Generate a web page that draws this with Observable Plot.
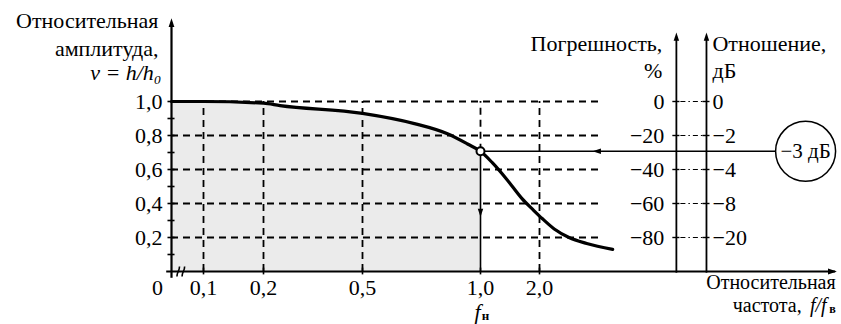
<!DOCTYPE html>
<html><head><meta charset="utf-8">
<script src="https://cdn.jsdelivr.net/npm/d3@7"></script>
<script src="https://cdn.jsdelivr.net/npm/@observablehq/plot@0.6"></script>
<style>body{margin:0;background:#fff} svg text{font-family:"Liberation Serif","Times New Roman",serif !important}</style>
</head><body><div id="chart"></div>
<script>
// ---- data ----
const freq      = [0, 0.1, 0.2, 0.25, 0.5, 0.72, 0.86, 0.945, 1.0, 1.2, 1.45, 1.7, 1.9, 2.05, 2.25, 2.5, 2.8, 3.24];
const amplitude = [1.0, 1.0, 0.99, 0.976, 0.93, 0.87, 0.81, 0.75, 0.707, 0.64, 0.54, 0.43, 0.36, 0.31, 0.25, 0.2, 0.165, 0.13];
const gridLevels   = [0.2, 0.4, 0.6, 0.8, 1.0];
const yTickLabels  = ["0,2", "0,4", "0,6", "0,8", "1,0"];
const minorYTicks  = [0.1, 0.2, 0.3, 0.4, 0.5, 0.6, 0.7, 0.8, 0.9, 1.0];
const xTicks       = [0.1, 0.2, 0.5, 1, 2];
const xTickLabels  = ["0,1", "0,2", "0,5", "1,0", "2,0"];
const errorLabels  = ["−80", "−60", "−40", "−20", "0"];
const dbLabels     = ["−20", "−8", "−4", "−2", "0"];
const cutoffF = 1.0, cutoffV = 0.707, cutoffLabel = "−3 дБ";

// ---- layout (data units of the chart's scales) ----
const errorAxisX = 4.32, dbAxisX = 4.83, axisEndX = 7.02, gridEndX = 3.03;
const circleX = 6.51, circleEdgeX = 6.0, arrowLeftX = 2.9, arrowDownY = 0.32;
const leftTopY = 1.46, secTopY = 1.376;

const curve = freq.map((f, i) => ({f, v: amplitude[i]}));
const shaded = curve.filter(d => d.f <= cutoffF);

function tri(dir) {
  return {draw(ctx, size) {
    const r = Math.sqrt(size / Math.PI), L = 2.6 * r, w = 0.85 * r;
    const pts = {up: [[0,0],[-w,L],[w,L]], down: [[0,0],[-w,-L],[w,-L]],
                 left: [[0,0],[L,-w],[L,w]], right: [[0,0],[-L,-w],[-L,w]]}[dir];
    ctx.moveTo(...pts[0]); ctx.lineTo(...pts[1]); ctx.lineTo(...pts[2]); ctx.closePath();
  }};
}

const FF = "Liberation Serif";
const FS = 22;
const dash = "7,5";
const T = (o) => Object.assign({fontSize: FS, fill: "black", fontFamily: FF}, o);
const chart = Plot.plot({
  width: 841, height: 324, margin: 0,
  style: {fontFamily: FF, background: "white", color: "black"},
  x: {type: "linear", domain: [0, 0.1, 0.2, 0.5, 1, 2, 3], range: [171, 203, 263, 362, 480, 539, 598], axis: null},
  y: {domain: [0, 1], range: [271, 101], axis: null},
  marks: [
    Plot.areaY(shaded, {x: "f", y: "v", fill: "#ebebeb", curve: "monotone-x"}),
    // dashed grid
    Plot.ruleY(gridLevels, {y: d => d, x1: 0, x2: gridEndX, stroke: "black", strokeWidth: 1.8, strokeDasharray: dash}),
    Plot.ruleX(xTicks.filter(d => d !== cutoffF), {x: d => d, y1: 0, y2: 1, stroke: "black", strokeWidth: 1.8, strokeDasharray: dash}),
    Plot.ruleX([cutoffF], {x: d => d, y1: cutoffV, y2: 1, stroke: "black", strokeWidth: 1.8, strokeDasharray: dash}),
    Plot.ruleX([cutoffF], {x: d => d, y1: 0, y2: cutoffV, stroke: "black", strokeWidth: 1.6}),
    // dash-dot connections between the two right axes
    Plot.ruleY(gridLevels, {y: d => d, x1: errorAxisX, x2: dbAxisX, stroke: "black", strokeWidth: 1.2, strokeDasharray: "1.5,3,5,3"}),
    // -3 dB line
    Plot.ruleY([cutoffV], {y: d => d, x1: cutoffF, x2: circleEdgeX, stroke: "black", strokeWidth: 1.6}),
    // axes
    Plot.ruleX([0], {x: d => d, y1: -0.04, y2: leftTopY, stroke: "black", strokeWidth: 2.2}),
    Plot.ruleY([0], {y: d => d, x1: -0.015, x2: axisEndX, stroke: "black", strokeWidth: 2}),
    Plot.ruleX([errorAxisX, dbAxisX], {x: d => d, y1: -0.01, y2: secTopY, stroke: "black", strokeWidth: 1.8}),
    // ticks
    Plot.ruleY(minorYTicks, {y: d => d, x1: -0.011, x2: 0.011, stroke: "black", strokeWidth: 1.6}),
    Plot.ruleY(gridLevels, {y: d => d, x1: errorAxisX - 0.06, x2: errorAxisX + 0.06, stroke: "black", strokeWidth: 1.4}),
    Plot.ruleY(gridLevels, {y: d => d, x1: dbAxisX - 0.06, x2: dbAxisX + 0.06, stroke: "black", strokeWidth: 1.4}),
    Plot.ruleX(xTicks, {x: d => d, y1: -0.02, y2: 0.02, stroke: "black", strokeWidth: 1.6}),
    // axis break marks
    Plot.link([0.021, 0.037], {x1: d => d - 0.004, y1: -0.03, x2: d => d + 0.004, y2: 0.03, stroke: "black", strokeWidth: 1.6, curve: "bump-y"}),
    // curve
    Plot.line(curve, {x: "f", y: "v", stroke: "black", strokeWidth: 3.2, curve: "monotone-x"}),
    // arrowheads
    Plot.dot([0], {x: 0, y: leftTopY + 0.03, symbol: tri("up"), r: 3.4, fill: "black", stroke: "none"}),
    Plot.dot([errorAxisX, dbAxisX], {x: d => d, y: secTopY + 0.03, symbol: tri("up"), r: 3.2, fill: "black", stroke: "none"}),
    Plot.dot([0], {x: axisEndX + 0.02, y: 0, symbol: tri("right"), r: 3.4, fill: "black", stroke: "none"}),
    Plot.dot([0], {x: arrowLeftX, y: cutoffV, symbol: tri("left"), r: 3.2, fill: "black", stroke: "none"}),
    Plot.dot([0], {x: cutoffF, y: arrowDownY, symbol: tri("down"), r: 3.2, fill: "black", stroke: "none"}),
    // cutoff markers
    Plot.dot([cutoffV], {x: cutoffF, y: d => d, r: 4, fill: "white", stroke: "black", strokeWidth: 2}),
    Plot.dot([cutoffV], {x: circleX, y: d => d, r: 30, fill: "white", stroke: "black", strokeWidth: 1.5}),
    Plot.text([cutoffLabel], T({x: circleX, y: cutoffV, text: d => d, fontSize: 21})),
    // tick labels
    Plot.text(gridLevels, T({x: 0, y: d => d, text: (d, i) => yTickLabels[i], textAnchor: "end", dx: -9})),
    Plot.text(["0"], T({x: 0, y: 0, text: d => d, dx: -14, dy: 16})),
    Plot.text(xTicks, T({x: d => d, y: 0, text: (d, i) => xTickLabels[i], dy: 16})),
    Plot.text(gridLevels, T({x: errorAxisX, y: d => d, text: (d, i) => errorLabels[i], textAnchor: "end", dx: -12})),
    Plot.text(gridLevels, T({x: dbAxisX, y: d => d, text: (d, i) => dbLabels[i], textAnchor: "start", dx: 6})),
    Plot.text(["f"], T({x: cutoffF, y: 0, text: d => d, dy: 40, dx: -3, fontStyle: "italic"})),
    Plot.text(["н"], T({x: cutoffF, y: 0, text: d => d, dy: 44, dx: 5, fontSize: 13, fontWeight: "bold"})),
    // axis titles
    Plot.text(["Относительная"], T({x: 0, y: 1.476, text: d => d, textAnchor: "end", dx: -13})),
    Plot.text(["амплитуда,"], T({x: 0, y: 1.31, text: d => d, textAnchor: "end", dx: -13})),
    Plot.text(["ν = h/h₀"], T({x: 0, y: 1.17, text: d => d, textAnchor: "end", dx: -10, fontStyle: "italic"})),
    Plot.text(["Погрешность,"], T({x: errorAxisX, y: 1.34, text: d => d, textAnchor: "end", dx: -14})),
    Plot.text(["%"], T({x: errorAxisX, y: 1.18, text: d => d, textAnchor: "end", dx: -14})),
    Plot.text(["Отношение,"], T({x: dbAxisX, y: 1.34, text: d => d, textAnchor: "start", dx: 6})),
    Plot.text(["дБ"], T({x: dbAxisX, y: 1.18, text: d => d, textAnchor: "start", dx: 6})),
    Plot.text(["Относительная"], T({x: axisEndX, y: -0.065, text: d => d, textAnchor: "end", fontSize: 20})),
    Plot.text(["в"], T({x: axisEndX, y: -0.2, text: d => d, textAnchor: "end", dy: 4, fontSize: 12, fontWeight: "bold"})),
    Plot.text(["f/f"], T({x: axisEndX, y: -0.2, text: d => d, textAnchor: "end", dx: -9, fontSize: 20, fontStyle: "italic"})),
    Plot.text(["частота,"], T({x: axisEndX, y: -0.2, text: d => d, textAnchor: "end", dx: -34, fontSize: 20}))
  ]
});
document.getElementById("chart").appendChild(chart);
</script>
</body></html>
